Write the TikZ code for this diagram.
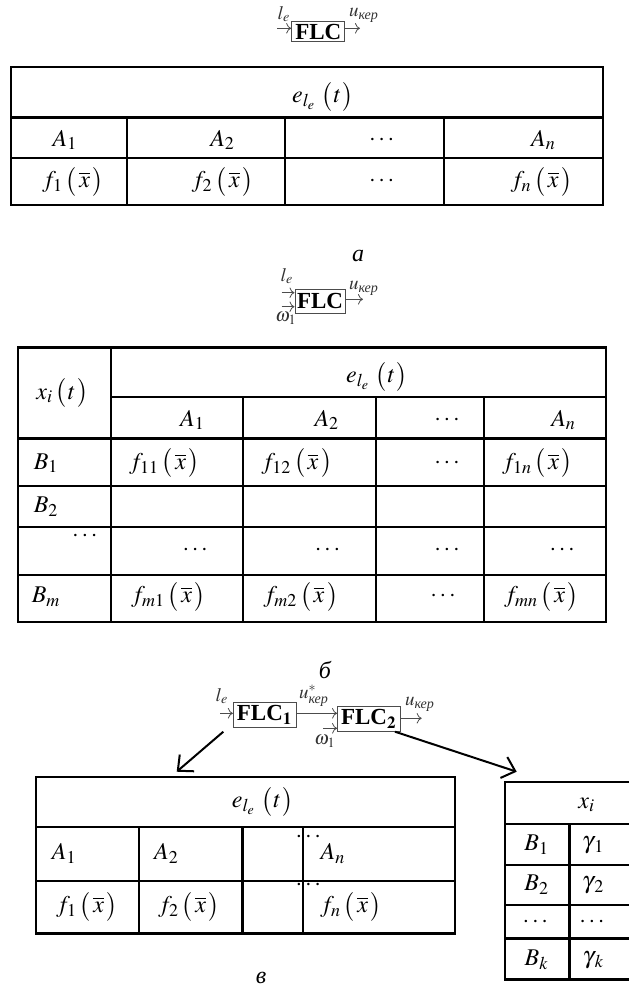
\documentclass[tikz,border=0pt]{standalone}
\usepackage{amsmath}
\usepackage{mathptmx}
\usepackage[no-math]{fontspec}
\setmainfont{Liberation Serif}
\usepackage{tikz}
\usetikzlibrary{positioning,arrows.meta}

\newcommand{\fx}[1]{f_{#1}\,\bigl(\mkern2mu\overline{x}\mkern2mu\bigr)}
\newcommand{\elt}{e_{l_e}\;\bigl(\mkern1mu t\mkern1mu\bigr)}
\newcommand{\ukep}{u_{\text{\itshape кер}}}
\newcommand{\gm}[1]{\gamma_{\kern1.2pt #1}}

\begin{document}
\begin{tikzpicture}[
			x=0.5pt, y=-0.5pt,
			grid/.style={line width=1.2pt},
			flc/.style={draw=black!70, line width=0.5pt, inner sep=0pt, font=\fontsize{11.5}{12}\selectfont\bfseries},
			sig/.style={draw=black!70, line width=0.4pt, -{To[length=2.5pt]}},
			lbl/.style={inner sep=0pt, text=black!80, font=\fontsize{9.5}{10}\selectfont},
			txt/.style={inner sep=0pt, font=\fontsize{12}{14}\selectfont},
			capt/.style={inner sep=0pt, font=\fontsize{12}{14}\selectfont\itshape},
			bigarrow/.style={line width=1pt, -{Straight Barb[length=6pt,width=11pt]}}
		]
		\useasboundingbox (0,0) rectangle (629,992);

		% a
		\node[flc, minimum width=26.6pt, minimum height=10.4pt] (flcA) at (318.3,31.5) {FLC};
		\coordinate (inA) at (277,28.3);
		\coordinate (outA) at (360,28.3);
		\draw[sig] (inA) -- (flcA.west |- inA);
		\draw[sig] (flcA.east |- outA) -- (outA);
		\node[lbl] (leA) at (284,14) {$l_e$};
		\node[lbl] (uA) at (364,15) {$\ukep$};

		\draw[grid] (10.8,66.7) rectangle (602.9,205);
		\draw[grid] (10.8,117.3) -- (602.9,117.3) (10.8,157.7) -- (602.9,157.7);
		\draw[grid] (126.7,117.3) -- (126.7,205) (284.8,117.3) -- (284.8,205) (444,117.3) -- (444,205);
		\node[txt] (hdA) at (322.9,96.7) {$\elt$};
		\node[txt] (a1A) at (65,140) {$A_1$};
		\node[txt] (a2A) at (222.6,140) {$A_2$};
		\node[txt] (daA) at (383,140) {$\cdots$};
		\node[txt] (anA) at (543.5,140) {$A_n$};
		\node[txt] (f1A) at (73,181.7) {$\fx{1}$};
		\node[txt] (f2A) at (222.6,181.7) {$\fx{2}$};
		\node[txt] (dfA) at (383,181.7) {$\cdots$};
		\node[txt] (fnA) at (541.5,181.7) {$\fx{n}$};
		\node[capt] (capA) at (358,256) {а};

		% b
		\node[flc, minimum width=25pt, minimum height=12pt] (flcB) at (320,301) {FLC};
		\coordinate (inB) at (281.7,292.7);
		\coordinate (wB) at (281.7,306.7);
		\coordinate (outB) at (363,299.3);
		\draw[sig] (inB) -- (flcB.west |- inB);
		\draw[sig] (wB) -- (flcB.west |- wB);
		\draw[sig] (flcB.east |- outB) -- (outB);
		\node[lbl] (leB) at (287,276) {$l_e$};
		\node[lbl] (wlB) at (286,318) {$\omega_1$};
		\node[lbl] (uB) at (364,288) {$\ukep$};

		\draw[grid] (18,347.3) rectangle (605.7,621.7);
		\draw[grid] (111.1,347.3) -- (111.1,621.7) (111.1,396.7) -- (605.7,396.7);
		\draw[grid] (18,438.3) -- (605.7,438.3) (18,485.7) -- (605.7,485.7) (18,526.7) -- (605.7,526.7) (18,575) -- (605.7,575);
		\draw[grid] (243.1,396.7) -- (243.1,621.7) (376.2,396.7) -- (376.2,621.7) (484.1,396.7) -- (484.1,621.7);
		\node[txt] (xiB) at (62.2,393.3) {$x_i\,\bigl(\mkern1mu t\mkern1mu\bigr)$};
		\node[txt] (hdB) at (377,376.7) {$\elt$};
		\node[txt] (a1B) at (192.5,420) {$A_1$};
		\node[txt] (a2B) at (326.9,420) {$A_2$};
		\node[txt] (daB) at (448.4,420) {$\cdots$};
		\node[txt] (anB) at (563.6,420) {$A_n$};
		\node[txt] (b1B) at (46.1,463.3) {$B_1$};
		\node[txt] (f11B) at (164.5,463.3) {$\fx{11}$};
		\node[txt] (f12B) at (296.8,463.3) {$\fx{12}$};
		\node[txt] (d1B) at (448.4,463.3) {$\cdots$};
		\node[txt] (f1nB) at (537.5,463.3) {$\fx{1n}$};
		\node[txt] (b2B) at (46.1,506.7) {$B_2$};
		\node[txt] (dbB) at (86.2,536.7) {$\cdots$};
		\node[txt] (d2B) at (196.5,550) {$\cdots$};
		\node[txt] (d3B) at (328.9,550) {$\cdots$};
		\node[txt] (d4B) at (448.4,550) {$\cdots$};
		\node[txt] (d5B) at (563.6,550) {$\cdots$};
		\node[txt] (bmB) at (46.1,596.7) {$B_m$};
		\node[txt] (fm1B) at (168.5,596.7) {$\fx{m1}$};
		\node[txt] (fm2B) at (300.8,596.7) {$\fx{m2}$};
		\node[txt] (dmB) at (444.4,596.7) {$\cdots$};
		\node[txt] (fmnB) at (541.5,596.7) {$\fx{mn}$};
		\node[capt] (capB) at (325,670) {б};

		% c
		\node[flc, minimum width=31.3pt, minimum height=12.5pt] (flcC1) at (264.7,714.8) {FLC$_{\mathbf{1}}$};
		\node[flc, minimum width=31.2pt, minimum height=12.5pt] (flcC2) at (368.8,719.2) {FLC$_{\mathbf{2}}$};
		\coordinate (inC) at (220,713.3);
		\coordinate (wC) at (323,728.3);
		\coordinate (outC) at (421.7,718.3);
		\draw[sig] (inC) -- (flcC1.west |- inC);
		\draw[sig] (flcC1.east |- inC) -- (flcC2.west |- inC);
		\draw[sig] (wC) -- (flcC2.west |- wC);
		\draw[sig] (flcC2.east |- outC) -- (outC);
		\node[lbl] (leC) at (222,696) {$l_e$};
		\node[lbl] (usC) at (314,696) {$u^{*}_{\text{\itshape кер}}$};
		\node[lbl] (wlC) at (325,741) {$\omega_1$};
		\node[lbl] (uC) at (420,704) {$\ukep$};

		\coordinate (s1) at (223.3,731.7);
		\coordinate (t1) at (176.7,771.7);
		\coordinate (s2) at (395,731.7);
		\coordinate (t2) at (516.7,771.7);
		\draw[bigarrow] (s1) -- (t1);
		\draw[bigarrow] (s2) -- (t2);

		\draw[grid] (36.1,776.7) rectangle (455.2,933.3);
		\draw[grid] (36.1,826.7) -- (455.2,826.7) (36.1,880.7) -- (455.2,880.7);
		\draw[grid] (139.2,826.7) -- (139.2,933.3) (242.3,826.7) -- (242.3,933.3) (302.8,826.7) -- (302.8,933.3);
		\node[txt] (hdC) at (262.7,801.7) {$\elt$};
		\node[txt] (a1C) at (64.2,853.3) {$A_1$};
		\node[txt] (a2C) at (166.5,853.3) {$A_2$};
		\node[txt] (daC) at (309.7,837.3) {$\cdots$};
		\node[txt] (anC) at (333,853.3) {$A_n$};
		\node[txt] (f1C) at (87,906.7) {$\fx{1}$};
		\node[txt] (f2C) at (189,906.7) {$\fx{2}$};
		\node[txt] (dfC) at (309.7,885) {$\cdots$};
		\node[txt] (fnC) at (351,906.7) {$\fx{n}$};

		\draw[grid] (629,781.7) -- (505,781.7) -- (505,979.3) -- (629,979.3);
		\draw[grid] (505,824) -- (629,824) (505,865) -- (629,865) (505,905) -- (629,905) (505,938.3) -- (629,938.3);
		\draw[grid] (569.3,824) -- (569.3,979.3);
		\node[txt] (xiC) at (586.7,805) {$x_i$};
		\node[txt] (b1C) at (536.7,845) {$B_1$};
		\node[txt] (g1C) at (593.3,845) {$\gm{1}$};
		\node[txt] (b2C) at (536.7,885) {$B_2$};
		\node[txt] (g2C) at (593.3,885) {$\gm{2}$};
		\node[txt] (dbC) at (536.7,922.7) {$\cdots$};
		\node[txt] (dgC) at (593.3,922.7) {$\cdots$};
		\node[txt] (bkC) at (536.7,960) {$B_k$};
		\node[txt] (gkC) at (593.3,960) {$\gm{k}$};
		\node[capt] (capC) at (261,978) {в};
		\end{tikzpicture}
\end{document}
